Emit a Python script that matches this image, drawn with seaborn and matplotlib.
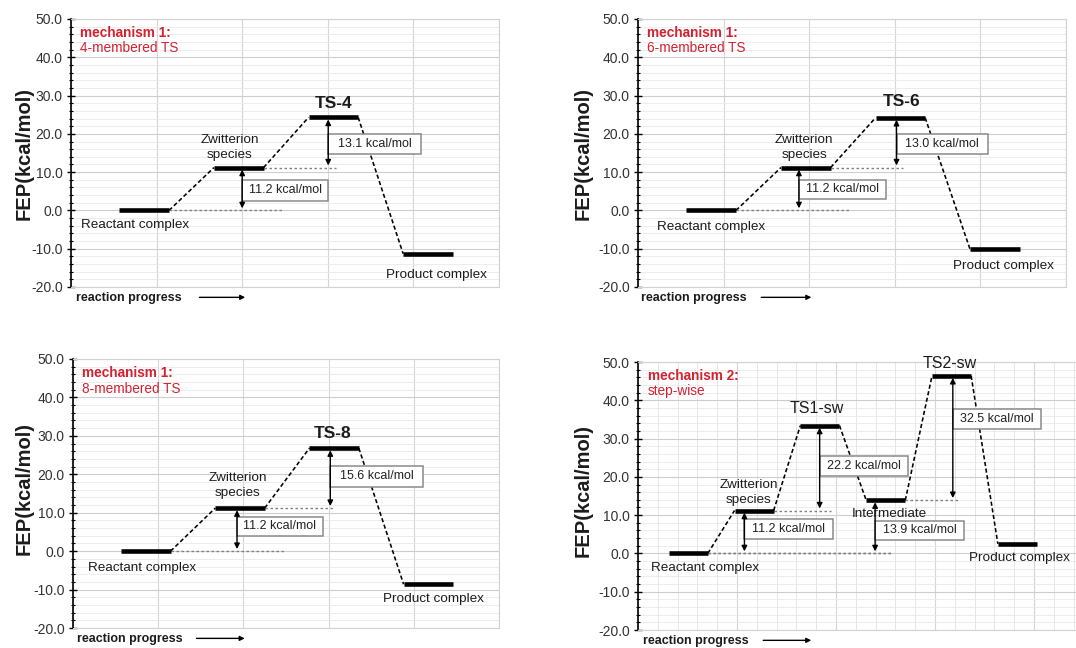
import numpy as np
import pandas as pd
import matplotlib
matplotlib.use("Agg")
import matplotlib.pyplot as plt
import seaborn as sns
from matplotlib.patches import Rectangle
from matplotlib.ticker import MultipleLocator, FormatStrFormatter

# ------------------------------------------------------------------ data
states_m1 = ["Reactant complex", "Zwitterion\nspecies", "TS", "Product complex"]
ts_names = ["TS-4", "TS-6", "TS-8"]
energy_ts4 = [0.0, 11.2, 24.3, -11.3]
energy_ts6 = [0.0, 11.2, 24.2, -10.2]
energy_ts8 = [0.0, 11.2, 26.8, -8.6]
states_sw = ["Reactant complex", "Zwitterion\nspecies", "TS1-sw",
             "Intermediate", "TS2-sw", "Product complex"]
energy_sw = [0.0, 11.2, 33.4, 13.9, 46.4, 2.5]
mech_titles = ["mechanism 1:", "mechanism 1:", "mechanism 1:", "mechanism 2:"]
mech_subtitles = ["4-membered TS", "6-membered TS", "8-membered TS", "step-wise"]
barriers_m1 = [(0, 1), (1, 2)]            # (from state, to state)
barriers_sw = [(0, 1), (1, 2), (0, 3), (3, 4)]
y_min, y_max = -20, 50
y_label = "FEP(kcal/mol)"
x_label = "reaction progress"

# ------------------------------------------------------------------ style
sns.set_theme(style="white")
plt.rcParams["font.family"] = ["Liberation Sans", "DejaVu Sans"]
RED = "#d42130"
TXT = "#1c1c1c"

W, H = 1076, 648
fig = plt.figure(figsize=(W / 100, H / 100), dpi=100)


def px_rect(l, r, t, b):
    return [l / W, 1 - b / H, (r - l) / W, (b - t) / H]


panels = [
    dict(energies=energy_ts4, states=states_m1, ts=ts_names[0], bars=barriers_m1,
         rect=px_rect(71, 499, 19, 287), xmax=10, x0=1.13, step=2.21, width=1.16,
         minor_x=False, ylab=(-0.11, 0.5),
         arrows=[4.0, 6.01], dot_end=[4.96, 6.2],
         boxes=[(4.0, 6.01, 2.5, 8.0), (6.01, 8.17, 14.7, 19.9)],
         labels=[(1.5, -3.9), (3.71, 16.4), (6.13, 27.8), (8.54, -16.9)],
         rp=(0.12, 3.0, 4.07)),
    dict(energies=energy_ts6, states=states_m1, ts=ts_names[1], bars=barriers_m1,
         rect=px_rect(638, 1066, 19, 287), xmax=10, x0=1.13, step=2.21, width=1.16,
         minor_x=False, ylab=(-0.128, 0.5),
         arrows=[3.76, 6.04], dot_end=[4.95, 6.19],
         boxes=[(3.76, 5.80, 3.0, 8.0), (6.04, 8.18, 14.7, 20.0)],
         labels=[(1.71, -4.2), (3.88, 16.4), (6.15, 28.4), (8.54, -14.6)],
         rp=(0.08, 2.88, 4.05)),
    dict(energies=energy_ts8, states=states_m1, ts=ts_names[2], bars=barriers_m1,
         rect=px_rect(73, 499, 359, 628), xmax=10, x0=1.13, step=2.21, width=1.16,
         minor_x=False, ylab=(-0.115, 0.52),
         arrows=[3.85, 6.04], dot_end=[4.96, 6.13],
         boxes=[(3.85, 5.86, 4.0, 9.0), (6.04, 8.21, 16.8, 22.1)],
         labels=[(1.61, -4.4), (3.87, 17.0), (6.09, 30.5), (8.45, -12.5)],
         rp=(0.09, 2.9, 4.03)),
    dict(energies=energy_sw, states=states_sw, ts=None, bars=barriers_sw,
         rect=px_rect(638, 1076, 362, 630), xmax=438 / 49.5, x0=0.62, step=1.33,
         width=0.79, minor_x=True, ylab=(-0.126, 0.52),
         arrows=[2.15, 3.67, 4.79, 6.36], dot_end=[5.15, 3.9, 5.15, 6.51],
         boxes=[(2.15, 3.94, 3.65, 8.9), (3.67, 5.45, 20.2, 25.4),
                (4.79, 6.58, 3.4, 8.6), (6.36, 8.15, 32.6, 37.8)],
         labels=[(1.35, -3.7), (2.24, 15.9), (3.62, 37.8), (5.07, 10.3),
                 (6.3, 49.6), (7.7, -1.1)],
         rp=(0.1, 2.53, 3.5)),
]

for k, p in enumerate(panels):
    ax = fig.add_axes(p["rect"])
    E = p["energies"]
    n = len(E)
    starts = [p["x0"] + p["step"] * i for i in range(n)]
    ends = [s + p["width"] for s in starts]

    # levels via seaborn
    rows = []
    for i, e in enumerate(E):
        rows.append(dict(state=i, x=starts[i], E=e))
        rows.append(dict(state=i, x=ends[i], E=e))
    df = pd.DataFrame(rows)
    sns.lineplot(data=df, x="x", y="E", units="state", estimator=None,
                 color="black", lw=3.3, ax=ax, legend=False, sort=False,
                 solid_capstyle="butt", zorder=4)

    # dashed connectors
    for i in range(n - 1):
        ax.plot([ends[i], starts[i + 1]], [E[i], E[i + 1]], color="black",
                lw=1.15, dashes=(2.6, 1.6), zorder=3)

    # barriers: dotted guide, arrow, box
    for j, (a, b) in enumerate(p["bars"]):
        xa = p["arrows"][j]
        ax.plot([ends[a], p["dot_end"][j]], [E[a], E[a]], color="#808080",
                lw=1.0, dashes=(1.8, 1.8), zorder=3)
        bx0, bx1, by0, by1 = p["boxes"][j]
        ax.add_patch(Rectangle((bx0, by0), bx1 - bx0, by1 - by0, facecolor="white",
                               edgecolor="#8a8a8a", lw=1.1, zorder=5))
        ax.text((bx0 + bx1) / 2, (by0 + by1) / 2, f"{E[b] - E[a]:.1f} kcal/mol",
                ha="center", va="center", fontsize=9, color="#222222", zorder=6)
        ax.annotate("", xy=(xa, E[b]), xytext=(xa, E[a]),
                    arrowprops=dict(arrowstyle="<|-|>", lw=1.0, color="black",
                                    mutation_scale=8, shrinkA=1.5, shrinkB=1.5),
                    zorder=6)

    # state labels
    for i, name in enumerate(p["states"]):
        lx, ly = p["labels"][i]
        if name == "TS":
            ax.text(lx, ly, p["ts"], ha="center", va="center", fontsize=12.5,
                    fontweight="bold", color=TXT, zorder=7)
        elif name.startswith("TS"):
            ax.text(lx, ly, name, ha="center", va="center", fontsize=11.5,
                    color=TXT, zorder=7, clip_on=False)
        else:
            ax.text(lx, ly, name, ha="center", va="center", fontsize=9.7,
                    color=TXT, linespacing=1.3, zorder=7)

    # mechanism title
    ax.text(0.2, 46.4, mech_titles[k], ha="left", va="center", fontsize=9.8,
            fontweight="bold", color=RED, zorder=7)
    ax.text(0.2, 42.3, mech_subtitles[k], ha="left", va="center", fontsize=9.8,
            color=RED, zorder=7)

    # reaction progress
    rx, ra0, ra1 = p["rp"]
    ax.text(rx, -22.9, x_label, ha="left", va="center", fontsize=9,
            fontweight="bold", color=TXT, clip_on=False)
    ax.annotate("", xy=(ra1, -22.7), xytext=(ra0, -22.7),
                arrowprops=dict(arrowstyle="-|>", lw=1.0, color="black",
                                mutation_scale=7, shrinkA=0, shrinkB=0),
                annotation_clip=False)

    # axes
    ax.set_xlim(0, p["xmax"])
    ax.set_ylim(y_min, y_max)
    ax.yaxis.set_major_locator(MultipleLocator(10))
    ax.yaxis.set_minor_locator(MultipleLocator(2))
    ax.yaxis.set_major_formatter(FormatStrFormatter("%.1f"))
    ax.xaxis.set_major_locator(MultipleLocator(2))
    if p["minor_x"]:
        ax.xaxis.set_minor_locator(MultipleLocator(0.4))
        ax.grid(which="minor", axis="x", color="#e2e2e2", lw=0.6)
    ax.set_axisbelow(True)
    ax.grid(which="major", axis="y", color="#cdcdcd", lw=0.8)
    ax.grid(which="minor", axis="y", color="#e9e9e9", lw=0.6)
    ax.grid(which="major", axis="x", color="#d6d6d6", lw=0.8)
    ax.set_xlabel("")
    ax.set_ylabel("")
    ax.tick_params(axis="x", which="both", bottom=False, labelbottom=False)
    ax.tick_params(axis="y", which="major", left=True, direction="inout",
                   length=6, width=1.0, color="black", labelsize=10,
                   labelcolor="#333333", pad=3)
    ax.tick_params(axis="y", which="minor", left=True, direction="inout",
                   length=3.5, width=0.8, color="black")
    for side in ["top", "right", "bottom"]:
        ax.spines[side].set_color("#d2d2d2")
        ax.spines[side].set_linewidth(0.8)
    ax.spines["left"].set_color("black")
    ax.spines["left"].set_linewidth(1.2)
    ax.text(p["ylab"][0], p["ylab"][1], y_label, transform=ax.transAxes,
            rotation=90, ha="center", va="center", fontsize=14.5,
            fontweight="bold", color=TXT)

fig.savefig("out.png", dpi=100, facecolor="white")
